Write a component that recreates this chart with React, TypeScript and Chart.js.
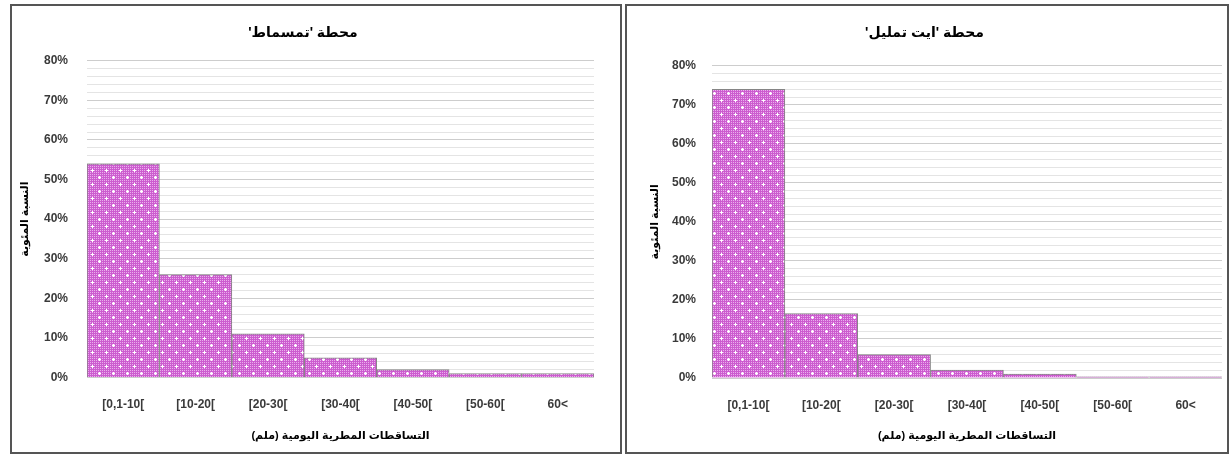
import React, { useEffect, useRef } from "react";
import { Chart, registerables } from "chart.js";

Chart.register(...registerables);

// ---- data ----
const categories = ["[0,1-10[", "[10-20[", "[20-30[", "[30-40[", "[40-50[", "[50-60[", "60<"];
const tamsmatValues = [54, 26, 11, 5, 2, 1, 1];
const aitTamlilValues = [74, 16.5, 6, 2, 1, 0.3, 0.3];
const tamsmatTitle = "محطة 'تمسماط'";
const aitTamlilTitle = "محطة 'ايت تمليل'";
const xAxisTitle = "التساقطات المطرية اليومية (ملم)";
const yAxisTitle = "النسبة المئوية";
const yMin = 0;
const yMax = 80;
const yStep = 2;
const yLabelEvery = 10;

const FONT = "'Liberation Sans', 'DejaVu Sans', Arial, sans-serif";
const rtl = (s: string) => "\u202B" + s + "\u202C";

function makePattern(): CanvasPattern | string {
  const c = document.createElement("canvas");
  c.width = 14;
  c.height = 14;
  const ctx = c.getContext("2d");
  if (!ctx) return "#cc66cc";
  ctx.fillStyle = "#cc5ccf";
  ctx.fillRect(0, 0, 14, 14);
  ctx.fillStyle = "#eaaeec";
  for (let y = 0; y < 14; y += 2) {
    for (let x = 0; x < 14; x += 2) {
      ctx.fillRect(x, y, 1, 1);
    }
  }
  ctx.fillStyle = "#ffffff";
  const crosses = [
    [3, 3],
    [10, 10],
  ];
  for (const [cx, cy] of crosses) {
    ctx.fillRect(cx - 1, cy, 3, 1);
    ctx.fillRect(cx, cy - 1, 1, 3);
  }
  return ctx.createPattern(c, "repeat") || "#cc66cc";
}

type Layout = {
  left: number;
  width: number;
  rightPad: number;
  yWidth: number;
  xHeight: number;
  yTickPad: number;
  yTitlePad: number;
  titleTop: number;
  titleBottom: number;
};

function Panel({ title, values, lay }: { title: string; values: number[]; lay: Layout }) {
  const ref = useRef<HTMLCanvasElement>(null);
  const cw = lay.width - 4;
  const ch = 446;
  useEffect(() => {
    if (!ref.current) return;
    const chart = new Chart(ref.current, {
      type: "bar",
      data: {
        labels: categories,
        datasets: [
          {
            data: values,
            backgroundColor: makePattern() as any,
            borderColor: "#858585",
            borderWidth: 1,
            categoryPercentage: 1,
            barPercentage: 1,
          },
        ],
      },
      options: {
        animation: false,
        responsive: false,
        devicePixelRatio: 1,
        layout: { padding: { left: 0, right: lay.rightPad, top: 0, bottom: 0 } },
        plugins: {
          legend: { display: false },
          tooltip: { enabled: false },
          title: {
            display: true,
            text: rtl(title),
            color: "#000000",
            font: { family: FONT, size: 14, weight: "bold" },
            padding: { top: lay.titleTop, bottom: lay.titleBottom },
          },
        },
        scales: {
          x: {
            grid: { display: false, drawTicks: false },
            border: { display: false },
            ticks: {
              autoSkip: false,
              maxRotation: 0,
              padding: 20,
              color: "#3a3a3a",
              font: { family: FONT, size: 12, weight: "bold" },
            },
            title: {
              display: true,
              text: rtl(xAxisTitle),
              color: "#000000",
              font: { family: FONT, size: 11, weight: "bold" },
              padding: { top: 17, bottom: 9 },
            },
            afterFit: (s: any) => {
              s.height = lay.xHeight;
            },
          },
          y: {
            min: yMin,
            max: yMax,
            grid: {
              drawTicks: false,
              color: (ctx: any) =>
                ctx.tick && ctx.tick.value % yLabelEvery === 0 ? "#cdcdcd" : "#e4e4e4",
              lineWidth: 1,
            },
            border: { display: false },
            ticks: {
              stepSize: yStep,
              autoSkip: false,
              padding: lay.yTickPad,
              color: "#3a3a3a",
              font: { family: FONT, size: 12, weight: "bold" },
              callback: (v: any) => (Number(v) % yLabelEvery === 0 ? v + "%" : ""),
            },
            title: {
              display: true,
              text: rtl(yAxisTitle),
              color: "#000000",
              font: { family: FONT, size: 11, weight: "bold" },
              padding: { top: lay.yTitlePad, bottom: 0 },
            },
            afterFit: (s: any) => {
              s.width = lay.yWidth;
            },
          },
        },
      },
    });
    return () => chart.destroy();
  }, []);
  return (
    <div
      style={{
        position: "absolute",
        left: lay.left,
        top: 4,
        width: lay.width,
        height: 450,
        boxSizing: "border-box",
        border: "2px solid #555555",
        background: "#ffffff",
      }}
    >
      <canvas
        ref={ref}
        width={cw}
        height={ch}
        style={{ display: "block", width: cw, height: ch }}
      />
    </div>
  );
}

const leftLayout: Layout = {
  left: 10,
  width: 612,
  rightPad: 26,
  yWidth: 75,
  xHeight: 74.5,
  yTickPad: 19,
  yTitlePad: 6.4,
  titleTop: 19,
  titleBottom: 19,
};

const rightLayout: Layout = {
  left: 625,
  width: 604,
  rightPad: 5,
  yWidth: 85,
  xHeight: 74,
  yTickPad: 16,
  yTitlePad: 21.4,
  titleTop: 19,
  titleBottom: 24,
};

export default function App() {
  return (
    <div
      style={{
        position: "fixed",
        left: 0,
        top: 0,
        width: 1229,
        height: 455,
        background: "#ffffff",
        overflow: "hidden",
      }}
    >
      <Panel title={tamsmatTitle} values={tamsmatValues} lay={leftLayout} />
      <Panel title={aitTamlilTitle} values={aitTamlilValues} lay={rightLayout} />
    </div>
  );
}
